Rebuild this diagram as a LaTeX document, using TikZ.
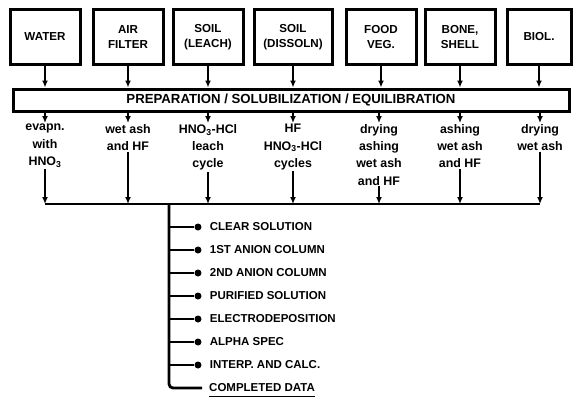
\documentclass[tikz,border=0pt]{standalone}
\usepackage{fontspec}
\setmainfont{Liberation Sans}
\usetikzlibrary{arrows.meta,positioning}

\begin{document}
\begin{tikzpicture}[
  x=1pt, y=-1pt,
  src/.style={rectangle, draw, line width=3pt, minimum width=70pt, minimum height=55pt, align=center, inner sep=2pt, font=\bfseries\fontsize{11.6}{15}\selectfont},
  prep/.style={rectangle, draw, line width=3pt, minimum width=556pt, minimum height=22pt, inner sep=0pt, font=\bfseries\fontsize{13.2}{14}\selectfont},
  method/.style={anchor=north, align=center, inner sep=1pt, font=\bfseries\fontsize{12.4}{17.3}\selectfont},
  arrow/.style={-{Latex[length=7pt,width=6pt]}, line width=2.4pt},
  line/.style={line width=2.8pt},
  dot/.style={circle, fill, inner sep=0pt, minimum size=7pt},
  item/.style={anchor=west, inner sep=0pt, font=\bfseries\fontsize{11.5}{12}\selectfont}
]
\useasboundingbox (0,0) rectangle (576,400);
\node[src] (water) at (45,37) {WATER};
\node[src] (air) at (128,37) {AIR\\FILTER};
\node[src] (leach) at (208,37) {SOIL\\(LEACH)};
\node[src, minimum width=78pt] (dissoln) at (293,37) {SOIL\\(DISSOLN)};
\node[src] (food) at (381,37) {FOOD\\VEG.};
\node[src] (bone) at (460,37) {BONE,\\SHELL};
\node[src, minimum width=64pt] (biol) at (539,37) {BIOL.};
\node[prep] (prep) at (291,100) {PREPARATION / SOLUBILIZATION / EQUILIBRATION};
\foreach \n in {water,air,leach,dissoln,food,bone,biol}
  \draw[arrow] (\n) -- (\n |- prep.north);

\node[method] (m1) at (45,123) {evapn.\\with\\HNO\textsubscript{3}};
\node[method] (m2) at (128,123) {wet ash\\and HF};
\node[method] (m3) at (208,123) {HNO\textsubscript{3}-HCl\\leach\\cycle};
\node[method] (m4) at (293,123) {HF\\HNO\textsubscript{3}-HCl\\cycles};
\node[method] (m5) at (379,123) {drying\\ashing\\wet ash\\and HF};
\node[method] (m6) at (460,123) {ashing\\wet ash\\and HF};
\node[method] (m7) at (540,123) {drying\\wet ash};
\coordinate (bus) at (45,204);
\coordinate (top) at (169,204);
\foreach \i in {1,...,7} {
  \draw[arrow] (prep.south -| m\i) -- (m\i.north);
  \draw[arrow] (m\i) -- (m\i |- bus);
}
\draw[line] (m1 |- bus) -- (m7 |- bus);

\foreach \t [count=\i] in {CLEAR SOLUTION, 1ST ANION COLUMN, 2ND ANION COLUMN, PURIFIED SOLUTION, ELECTRODEPOSITION, ALPHA SPEC, INTERP. AND CALC.} {
  \node[dot] (d\i) at (198,{227+23*(\i-1)}) {};
  \node[item, right=8pt of d\i] (c\i) {\t};
  \draw[line] (top |- d\i) -- (d\i);
}
\node[item] (done) at (209,388) {COMPLETED DATA};
\draw[line, rounded corners=4pt] (top) -- (top |- done) -- ([xshift=-7pt]done.west);
\draw[line width=1.4pt] ([yshift=-4pt]done.south west) -- ([yshift=-4pt]done.south east);
\end{tikzpicture}
\end{document}
